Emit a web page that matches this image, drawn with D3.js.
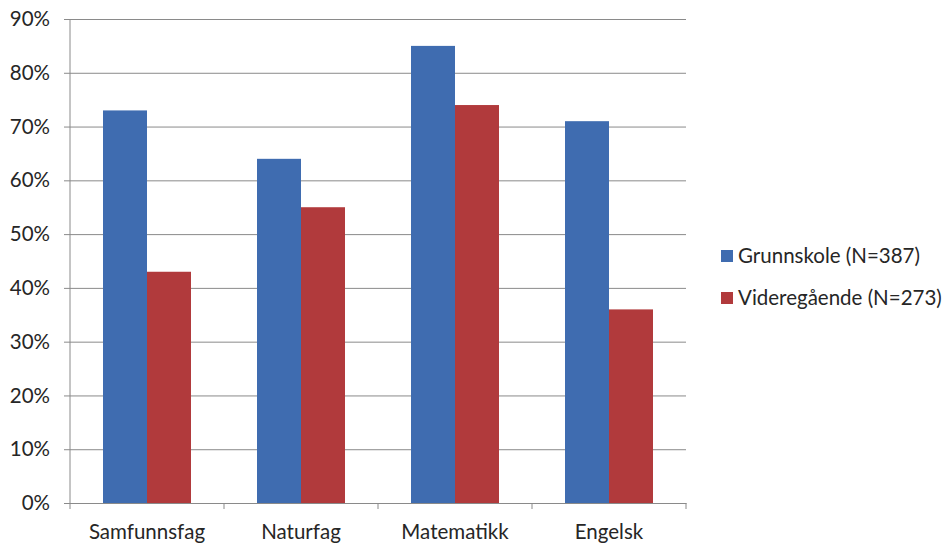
<!DOCTYPE html>
<html>
<head>
<meta charset="utf-8">
<script src="https://cdn.jsdelivr.net/npm/d3@7"></script>
<style>
  html, body { margin: 0; padding: 0; background: #fff; }
  svg { display: block; }
  text { font-family: Lato, "Open Sans", sans-serif; fill: #262626; }
</style>
</head>
<body>
<div id="chart"></div>
<script>
// Subjects and shares per school level
const categories = ["Samfunnsfag", "Naturfag", "Matematikk", "Engelsk"];
const seriesNames = ["Grunnskole (N=387)", "Videregående (N=273)"];
const grunnskole = [0.73, 0.64, 0.85, 0.71];
const videregaende = [0.43, 0.55, 0.74, 0.36];
const yTicks = [0, 0.1, 0.2, 0.3, 0.4, 0.5, 0.6, 0.7, 0.8, 0.9];
const colors = ["#3f6cb0", "#b13a3c"];

const width = 944, height = 545;
const plot = { left: 70, right: 686, top: 19, bottom: 503 };
const fontSize = 20.5;

const svg = d3.select("#chart").append("svg")
  .attr("width", width).attr("height", height);

const x = d3.scaleBand().domain(categories).range([plot.left, plot.right]).paddingInner(0).paddingOuter(0);
const x1 = d3.scaleBand().domain(seriesNames).range([0, x.bandwidth()]).paddingInner(0).paddingOuter(0.75);
const y = d3.scaleLinear().domain([0, 0.9]).range([plot.bottom, plot.top]);

// Horizontal gridlines with short left tick marks
const yAxis = d3.axisLeft(y).tickValues(yTicks).tickFormat(d3.format(".0%"))
  .tickSize(-(plot.right - plot.left)).tickPadding(20);
const gy = svg.append("g").attr("transform", `translate(${plot.left},0)`).call(yAxis);
gy.select(".domain").remove();
gy.selectAll(".tick line").attr("stroke", "#8a8a8a").attr("x1", -6);
gy.selectAll(".tick text").attr("font-size", fontSize).attr("fill", "#262626");

// Vertical axis line
svg.append("line")
  .attr("x1", plot.left).attr("x2", plot.left)
  .attr("y1", plot.top).attr("y2", plot.bottom)
  .attr("stroke", "#8a8a8a");

// Bars
const data = categories.map((c, i) => ({ cat: c, vals: [grunnskole[i], videregaende[i]] }));
const groups = svg.append("g").selectAll("g").data(data).join("g")
  .attr("transform", d => `translate(${x(d.cat)},0)`);
groups.selectAll("rect").data(d => d.vals.map((v, k) => ({ v, name: seriesNames[k], k })))
  .join("rect")
  .attr("x", d => x1(d.name))
  .attr("width", x1.bandwidth())
  .attr("y", d => y(d.v))
  .attr("height", d => y(0) - y(d.v))
  .attr("fill", d => colors[d.k]);

// Category axis
const xAxis = d3.axisBottom(x).tickSize(0).tickPadding(21);
const gx = svg.append("g").attr("transform", `translate(0,${plot.bottom})`).call(xAxis);
gx.select(".domain").attr("stroke", "#8a8a8a");
gx.selectAll(".tick text").attr("font-size", fontSize).attr("fill", "#262626");
// Tick marks between categories
const bounds = categories.map(c => x(c)).concat([plot.right]);
svg.append("g").selectAll("line").data(bounds).join("line")
  .attr("x1", d => d).attr("x2", d => d)
  .attr("y1", plot.bottom).attr("y2", plot.bottom + 6)
  .attr("stroke", "#8a8a8a");

// Legend
const legend = svg.append("g").attr("transform", "translate(721,250)");
const items = legend.selectAll("g").data(seriesNames).join("g")
  .attr("transform", (d, i) => `translate(0,${i * 42})`);
items.append("rect").attr("width", 12).attr("height", 12).attr("fill", (d, i) => colors[i]);
items.append("text").attr("x", 17).attr("y", 6).attr("dy", "0.36em")
  .attr("font-size", fontSize).text(d => d);
</script>
</body>
</html>
